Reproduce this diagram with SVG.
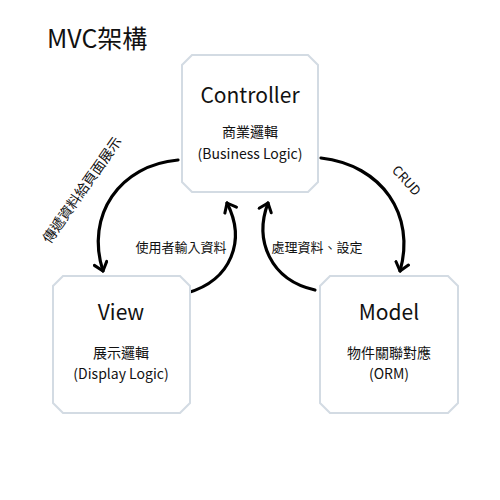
<svg xmlns="http://www.w3.org/2000/svg" width="500" height="500" viewBox="0 0 500 500">
<style>
.box{fill:#fff;stroke:#d3dbe3;stroke-width:2}
.t{font-family:"Noto Sans CJK TC","Noto Sans",sans-serif;fill:#111;text-anchor:middle}
.h{font-size:21px}
.s{font-size:14px}
.c{fill:none;stroke:#000;stroke-width:3.2;stroke-linecap:round}
</style>
<defs>
<marker id="ah" viewBox="-10 -8 12 16" markerWidth="12" markerHeight="16" refX="0" refY="0" orient="auto" markerUnits="userSpaceOnUse">
<path d="M-8,-6.5 L0,0 L-8,6.5" fill="none" stroke="#000" stroke-width="3" stroke-linecap="round" stroke-linejoin="round"/>
</marker>
</defs>
<rect width="500" height="500" fill="#fff"/>
<text x="47" y="48" font-family="Noto Sans CJK TC,Noto Sans,sans-serif" font-size="25" fill="#111">MVC架構</text>
<g id="connectors">
<path class="c" d="M178 160 C120 165 85 215 103 271" marker-end="url(#ah)"/>
<path class="c" d="M187 293 C232 280 246 240 227 203" marker-end="url(#ah)"/>
<path class="c" d="M315 290 C270 280 254 240 268 203" marker-end="url(#ah)"/>
<path class="c" d="M321 158 C382 165 416 215 400 271" marker-end="url(#ah)"/>
<text class="t" font-size="14" transform="translate(82,190) rotate(-55)" dy="5">傳遞資料給頁面展示</text>
<text class="t" font-size="13" x="181" y="252">使用者輸入資料</text>
<text class="t" font-size="13" x="317" y="252">處理資料、設定</text>
<text class="t" font-size="13" transform="translate(406,181) rotate(48)" dy="4">CRUD</text>
</g>
<g id="controller">
<path class="box" d="M192 55 H308 L318 65 V182 L308 192 H192 L182 182 V65 Z"/>
<text class="t h" x="250" y="103">Controller</text>
<text class="t s" x="250" y="137">商業邏輯</text>
<text class="t s" x="250" y="159">(Business Logic)</text>
</g>
<g id="view">
<path class="box" d="M63 276 H180 L190 286 V403 L180 413 H63 L53 403 V286 Z"/>
<text class="t h" x="121" y="320">View</text>
<text class="t s" x="121" y="358">展示邏輯</text>
<text class="t s" x="121" y="379">(Display Logic)</text>
</g>
<g id="model">
<path class="box" d="M330 276 H448 L458 286 V403 L448 413 H330 L320 403 V286 Z"/>
<text class="t h" x="389" y="320">Model</text>
<text class="t s" x="389" y="358">物件關聯對應</text>
<text class="t s" x="389" y="379">(ORM)</text>
</g>
</svg>
